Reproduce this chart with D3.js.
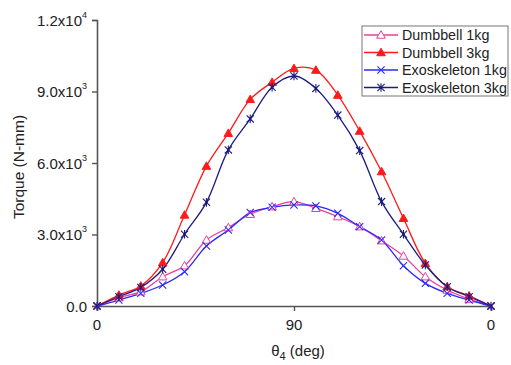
<!DOCTYPE html>
<html><head><meta charset="utf-8">
<script src="https://cdn.jsdelivr.net/npm/d3@7"></script>
<style>body{margin:0;background:#fff}svg{display:block;font-family:Arial,"Liberation Sans",sans-serif}</style>
</head><body><svg id="c" width="511" height="365"></svg>
<script>
const angles = [0,10,20,30,40,50,60,70,80,90,100,110,120,130,140,150,160,170,180];
const dumbbell1 = [0,350,600,1230,1690,2770,3290,3850,4170,4380,4100,3750,3330,2740,2100,1230,670,290,0];
const dumbbell3 = [0,460,840,1820,3820,5870,7250,8670,9390,9970,9900,8850,7340,5640,3680,1790,810,430,0];
const exo1 = [0,250,530,880,1440,2520,3190,3920,4140,4240,4200,3890,3330,2770,1690,950,530,250,0];
const exo3 = [0,390,780,1540,3010,4350,6550,7850,9180,9650,9130,8010,6520,4380,3010,1720,810,390,0];
const seriesNames = ["Dumbbell 1kg","Dumbbell 3kg","Exoskeleton 1kg","Exoskeleton 3kg"];
const seriesColors = ["#e8409a","#ff1a1a","#2a2aff","#1c1c80"];
const seriesMarkers = ["triOpen","triFilled","x","star"];
const yTicks = [0,3000,6000,9000,12000];
const yTickLabels = [["0.0",""],["3.0x10","3"],["6.0x10","3"],["9.0x10","3"],["1.2x10","4"]];
const xTicks = [0,90,180];
const xTickLabels = ["0","90","0"];

const svg = d3.select("#c");
const x = d3.scaleLinear().domain([0,180]).range([97,491]);
const y = d3.scaleLinear().domain([0,12000]).range([306,20]);
const axisColor = "#555";

const yAx = svg.append("g").attr("transform","translate(97,0)")
  .call(d3.axisLeft(y).tickValues(yTicks).tickSize(5).tickFormat(""));
const xAx = svg.append("g").attr("transform","translate(0,306)")
  .call(d3.axisBottom(x).tickValues(xTicks).tickSize(5).tickFormat(""));
[yAx,xAx].forEach(g=>{g.select(".domain").attr("stroke",axisColor).attr("stroke-width",1.6);
  g.selectAll(".tick line").attr("stroke",axisColor).attr("stroke-width",1.4);});

yTicks.forEach((v,i)=>{
  const t = svg.append("text").attr("x",87).attr("y",y(v)+5.5).attr("text-anchor","end")
    .attr("font-size",15).attr("fill","#222");
  t.append("tspan").text(yTickLabels[i][0]);
  if (yTickLabels[i][1]) t.append("tspan").attr("dy",-8).attr("font-size",9).text(yTickLabels[i][1]);
});
xTicks.forEach((v,i)=>{
  svg.append("text").attr("x",x(v)).attr("y",330).attr("text-anchor","middle")
    .attr("font-size",15).attr("fill","#222").text(xTickLabels[i]);
});
svg.append("text").attr("transform","translate(24,167) rotate(-90)").attr("text-anchor","middle")
  .attr("font-size",15.5).attr("fill","#222").text("Torque (N-mm)");
const xt = svg.append("text").attr("x",298).attr("y",356).attr("text-anchor","middle")
  .attr("font-size",15).attr("fill","#222");
xt.append("tspan").text("θ");
xt.append("tspan").attr("dy",4).attr("font-size",11).text("4");
xt.append("tspan").attr("dy",-4).text(" (deg)");

function drawMarker(g, type, cx, cy, color){
  if (type==="triOpen" || type==="triFilled"){
    const s=4.3;
    g.append("path").attr("d",`M${cx},${cy-s}L${cx+s},${cy+s*0.75}L${cx-s},${cy+s*0.75}Z`)
      .attr("fill", type==="triOpen"?"#fff":color).attr("stroke",color).attr("stroke-width",1);
  } else if (type==="x"){
    const s=3.6;
    g.append("path").attr("d",`M${cx-s},${cy-s}L${cx+s},${cy+s}M${cx-s},${cy+s}L${cx+s},${cy-s}`)
      .attr("stroke",color).attr("stroke-width",1.1).attr("fill","none");
  } else {
    const s=3.6;
    g.append("path").attr("d",`M${cx-s},${cy-s}L${cx+s},${cy+s}M${cx-s},${cy+s}L${cx+s},${cy-s}M${cx},${cy-s*1.2}L${cx},${cy+s*1.2}`)
      .attr("stroke",color).attr("stroke-width",1.1).attr("fill","none");
    g.append("circle").attr("cx",cx).attr("cy",cy).attr("r",1.3).attr("fill",color);
  }
}

const data = [dumbbell1,dumbbell3,exo1,exo3];
const line = d3.line().x((d,i)=>x(angles[i])).y(d=>y(d)).curve(d3.curveCatmullRom.alpha(0.5));
const plot = svg.append("g");
data.forEach((vals,k)=>{
  plot.append("path").datum(vals).attr("d",line).attr("fill","none")
    .attr("stroke",seriesColors[k]).attr("stroke-width",1.3);
});
data.forEach((vals,k)=>{
  const g = plot.append("g");
  vals.forEach((v,i)=>{ if(i>0 && i<vals.length-1) drawMarker(g,seriesMarkers[k],x(angles[i]),y(v),seriesColors[k]); });
});
data.forEach((vals,k)=>{
  [0,vals.length-1].forEach(i=>{
    drawMarker(plot,seriesMarkers[k]==="triOpen"||seriesMarkers[k]==="triFilled"?"x":seriesMarkers[k],x(angles[i]),y(vals[i]),seriesColors[k]);
  });
});

const lg = svg.append("g");
lg.append("rect").attr("x",362).attr("y",26).attr("width",146).attr("height",70)
  .attr("fill","#fff").attr("stroke","#777").attr("stroke-width",1);
seriesNames.forEach((n,k)=>{
  const ly = 35 + k*17.5;
  lg.append("line").attr("x1",364).attr("x2",398).attr("y1",ly).attr("y2",ly)
    .attr("stroke",seriesColors[k]).attr("stroke-width",1.3);
  drawMarker(lg,seriesMarkers[k],381,ly,seriesColors[k]);
  lg.append("text").attr("x",402).attr("y",ly+5).attr("font-size",14.3).attr("fill","#222").text(n);
});
</script></body></html>
